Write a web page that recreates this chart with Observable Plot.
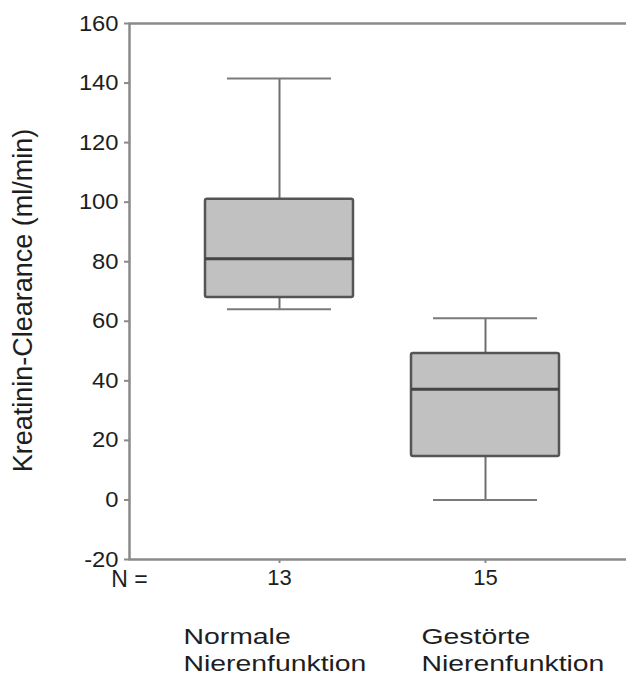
<!DOCTYPE html>
<html>
<head>
<meta charset="utf-8">
<script src="https://cdn.jsdelivr.net/npm/d3@7"></script>
<script src="https://cdn.jsdelivr.net/npm/@observablehq/plot@0.6"></script>
<style>
  html, body { margin: 0; padding: 0; background: #fff; overflow: hidden; }
</style>
</head>
<body>
<div id="chart"></div>
<script>
// ---- data ----
const groups = ["Normale\nNierenfunktion", "Gestörte\nNierenfunktion"];
const counts = [13, 15];
const whiskerLow = [64, 0];
const q1s = [68, 14.6];
const medians = [81, 37.2];
const q3s = [101, 49.2];
const whiskerHigh = [141.5, 61];
const yTicks = [-20, 0, 20, 40, 60, 80, 100, 120, 140, 160];
const yLabel = "Kreatinin-Clearance (ml/min)";
const nLabel = "N =";

const rows = groups.map((group, i) => ({
  group, n: counts[i], low: whiskerLow[i], q1: q1s[i], median: medians[i], q3: q3s[i], high: whiskerHigh[i]
}));
const countOf = new Map(rows.map(d => [d.group, d.n]));

const axisGray = "#8a8a8a";
const textColor = "#1e1e1e";

const svg = Plot.plot({
  width: 626,
  height: 680,
  marginLeft: 129,
  marginRight: -9,
  marginTop: 23,
  marginBottom: 121,
  style: { fontFamily: "'Liberation Sans', Arial, sans-serif", background: "#fff", color: textColor },
  x: { type: "band", domain: groups, paddingInner: 0.282, paddingOuter: 0.369, axis: null },
  y: { domain: [-20, 160], axis: null },
  marks: [
    Plot.frame({ stroke: axisGray, strokeWidth: 2.5 }),
    // y axis ticks and labels
    Plot.axisY({ ticks: yTicks, tickSize: 5, tickFormat: () => "", stroke: axisGray, strokeWidth: 2, label: null }),
    Plot.axisY({ ticks: yTicks, tickSize: 0, tickPadding: 11, fontSize: 22, fill: textColor, label: null, tickFormat: d => String(d) }),
    // x axis ticks and N labels
    Plot.axisX({ tickSize: 4, tickFormat: () => "", stroke: axisGray, strokeWidth: 2, label: null }),
    Plot.axisX({ tickSize: 0, tickPadding: 10, fontSize: 22, fill: textColor, tickFormat: g => String(countOf.get(g)), label: null }),
    Plot.text([nLabel], { frameAnchor: "bottom-left", dy: 20, textAnchor: "middle", lineAnchor: "middle", fontSize: 23, fill: textColor }),
    // whiskers
    Plot.ruleX(rows, { x: "group", y1: "q3", y2: "high", stroke: "#6e6e6e", strokeWidth: 2 }),
    Plot.ruleX(rows, { x: "group", y1: "low", y2: "q1", stroke: "#6e6e6e", strokeWidth: 2 }),
    Plot.tickY(rows, { x: "group", y: "high", inset: 22, stroke: "#7a7a7a", strokeWidth: 2 }),
    Plot.tickY(rows, { x: "group", y: "low", inset: 22, stroke: "#7a7a7a", strokeWidth: 2 }),
    // boxes
    Plot.barY(rows, { x: "group", y1: "q1", y2: "q3", fill: "#c1c1c1", stroke: "#555", strokeWidth: 2.5, rx: 2 }),
    Plot.tickY(rows, { x: "group", y: "median", stroke: "#444", strokeWidth: 3 }),
    // y label
    Plot.text([yLabel], { frameAnchor: "left", dx: -106, dy: 9, rotate: -90, textAnchor: "middle", lineAnchor: "middle", fontSize: 27, fill: textColor }),
    // category labels
    Plot.text(rows.slice(0, 1), { x: "group", text: "group", frameAnchor: "bottom", textAnchor: "start", lineAnchor: "top", dx: -96, dy: 65, fontSize: 22, lineHeight: 1.23, fill: textColor }),
    Plot.text(rows.slice(1, 2), { x: "group", text: "group", frameAnchor: "bottom", textAnchor: "start", lineAnchor: "top", dx: -64, dy: 65, fontSize: 22, lineHeight: 1.23, fill: textColor })
  ]
});

// the reference sets its labels horizontally wide: stretch them about their anchor
function stretch(el, sx) {
  const t = el.getAttribute("transform") || "";
  el.setAttribute("transform", (t + " scale(" + sx + ",1)").trim());
}
svg.querySelectorAll("text").forEach(el => {
  const s = el.textContent;
  if (s.includes("Nierenfunktion")) stretch(el, 1.29);
  else if (/^-?\d+$/.test(s) && el.closest('g[aria-label="y-axis tick label"]')) stretch(el, 1.08);
});

document.getElementById("chart").appendChild(svg);
</script>
</body>
</html>
